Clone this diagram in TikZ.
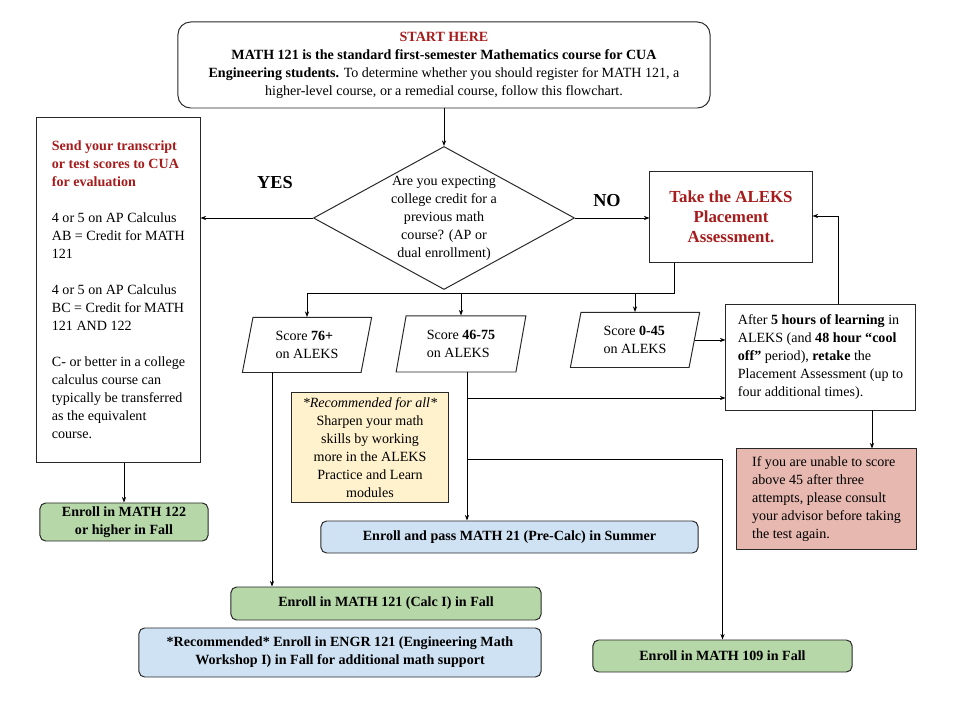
\documentclass[tikz,border=0pt]{standalone}
\usepackage{fontspec}
\setmainfont{Liberation Serif}
\usetikzlibrary{shapes.geometric,arrows.meta}

\definecolor{headred}{RGB}{166,28,28}
\definecolor{okgreen}{RGB}{182,215,168}
\definecolor{infoblue}{RGB}{207,226,243}
\definecolor{tipyellow}{RGB}{255,242,204}
\definecolor{warnred}{RGB}{230,184,175}
\definecolor{edge}{RGB}{40,40,40}

\begin{document}
\begin{tikzpicture}[x=0.025cm, y=-0.025cm, line width=0.6pt,
  font=\fontsize{10}{12.8}\selectfont,
  >={Stealth[length=4pt,width=3pt]},
  plain/.style={draw=edge, line width=0.7pt, inner sep=2pt},
  pill/.style={plain, rounded corners=4pt, font=\fontsize{10}{12.8}\selectfont\bfseries, align=center},
  decision/.style={draw=edge, line width=0.7pt, shape=diamond, inner sep=0pt},
  score/.style={draw=edge, line width=0.7pt, trapezium, trapezium left angle=78,
    trapezium right angle=102, trapezium stretches=true, align=left, inner sep=1pt}]

\useasboundingbox (0,0) rectangle (956,708);

% top and question
\node[plain, rounded corners=9pt, align=center, minimum width=13.3cm, minimum height=2.15cm] (start) at (444,65)
  {\textcolor{headred}{\textbf{START HERE}}\\
   \textbf{MATH 121 is the standard first-semester Mathematics course for CUA}\\
   \textbf{Engineering students.} To determine whether you should register for MATH 121, a\\
   higher-level course, or a remedial course, follow this flowchart.};
\node[decision, minimum width=6.525cm, minimum height=3.575cm] (q) at (444,218) {};
\node[align=center] (qtext) at (q) {Are you expecting\\ college credit for a\\ previous math\\ course? (AP or\\ dual enrollment)};
\node[font=\fontsize{13}{15}\selectfont\bfseries] (yes) at (275,183) {YES};
\node[font=\fontsize{13}{15}\selectfont\bfseries] (no) at (607,201) {NO};

% credit side
\node[plain, align=left, minimum width=4.075cm, minimum height=8.6cm] (send) at (118.5,290)
  {\textcolor{headred}{\textbf{Send your transcript}}\\
   \textcolor{headred}{\textbf{or test scores to CUA}}\\
   \textcolor{headred}{\textbf{for evaluation}}\\ \mbox{}\\
   4 or 5 on AP Calculus\\ AB = Credit for MATH\\ 121\\ \mbox{}\\
   4 or 5 on AP Calculus\\ BC = Credit for MATH\\ 121 AND 122\\ \mbox{}\\
   C- or better in a college\\ calculus course can\\ typically be transferred\\ as the equivalent\\ course.};
\node[pill, fill=okgreen, minimum width=4.2cm, minimum height=0.95cm] (m122) at (124,522)
  {Enroll in MATH 122\\ or higher in Fall};

% placement side
\node[plain, align=center, minimum width=4.05cm, minimum height=2.25cm,
  font=\fontsize{12}{14.2}\selectfont\bfseries, text=headred] (aleks) at (731,217)
  {Take the ALEKS\\ Placement\\ Assessment.};
\node[score, minimum width=3.25cm, minimum height=1.375cm] (s76) at (307,345) {Score \textbf{76+}\\ on ALEKS};
\node[score, minimum width=3.25cm, minimum height=1.4cm] (s46) at (461,344) {Score \textbf{46-75}\\ on ALEKS};
\node[score, minimum width=3.25cm, minimum height=1.375cm] (s0) at (635,340) {Score \textbf{0-45}\\ on ALEKS};
\node[plain, align=left, minimum width=4.725cm, minimum height=2.625cm] (retake) at (820.5,357.5)
  {After \textbf{5 hours of learning} in\\
   ALEKS (and \textbf{48 hour ``cool}\\
   \textbf{off''} period), \textbf{retake} the\\
   Placement Assessment (up to\\
   four additional times).};
\node[plain, fill=warnred, align=left, minimum width=4.475cm, minimum height=2.5cm] (warn) at (826.5,499)
  {If you are unable to score\\ above 45 after three\\ attempts, please consult\\ your advisor before taking\\ the test again.};
\node[plain, fill=tipyellow, align=center, minimum width=3.9cm, minimum height=2.725cm] (tip) at (370,447.5)
  {\textit{*Recommended for all*}\\ Sharpen your math\\ skills by working\\ more in the ALEKS\\ Practice and Learn\\ modules};

% outcomes
\node[pill, fill=infoblue, minimum width=9.425cm, minimum height=0.8cm] (m21) at (509.5,537)
  {Enroll and pass MATH 21 (Pre-Calc) in Summer};
\node[pill, fill=okgreen, minimum width=7.75cm, minimum height=0.825cm] (m121) at (386,603.5)
  {Enroll in MATH 121 (Calc I) in Fall};
\node[pill, fill=infoblue, minimum width=10.05cm, minimum height=1.225cm] (engr) at (340,652.5)
  {*Recommended* Enroll in ENGR 121 (Engineering Math\\ Workshop I) in Fall for additional math support};
\node[pill, fill=okgreen, minimum width=6.475cm, minimum height=0.8cm] (m109) at (722.5,656)
  {Enroll in MATH 109 in Fall};

% connectors
\coordinate (bus) at (674,293);
\coordinate (back) at (838,216);
\coordinate (j76) at (272,372);
\coordinate (j46) at (467,372);
\coordinate (t1) at (467,398);
\coordinate (t2) at (467,459);
\coordinate (jw) at (872,410);

\draw[->] (start.south) -- (q.north);
\draw[->] (q.west) -- (q.west -| send.east);
\draw[->] (q.east) -- (q.east -| aleks.west);
\draw[->] (m122.north |- send.south) -- (m122.north);
\draw[->] (bus |- aleks.south) -- (bus) -| (s76.north);
\draw[->] (bus -| s46.north) -- (s46.north);
\draw[->] (bus -| s0.north) -- (s0.north);
\draw[->] (s0.east) -- (s0.east -| retake.west);
\draw[->] (back |- retake.north) -- (back) -- (back -| aleks.east);
\draw[->] (j76) -- (j76 |- m121.north);
\draw[->] (j46) -- (j46 |- m21.north);
\draw[->] (t1) -- (t1 -| retake.west);
\draw[->] (t2) -| (m109.north);
\draw[->] (jw) -- (jw |- warn.north);

\end{tikzpicture}
\end{document}
